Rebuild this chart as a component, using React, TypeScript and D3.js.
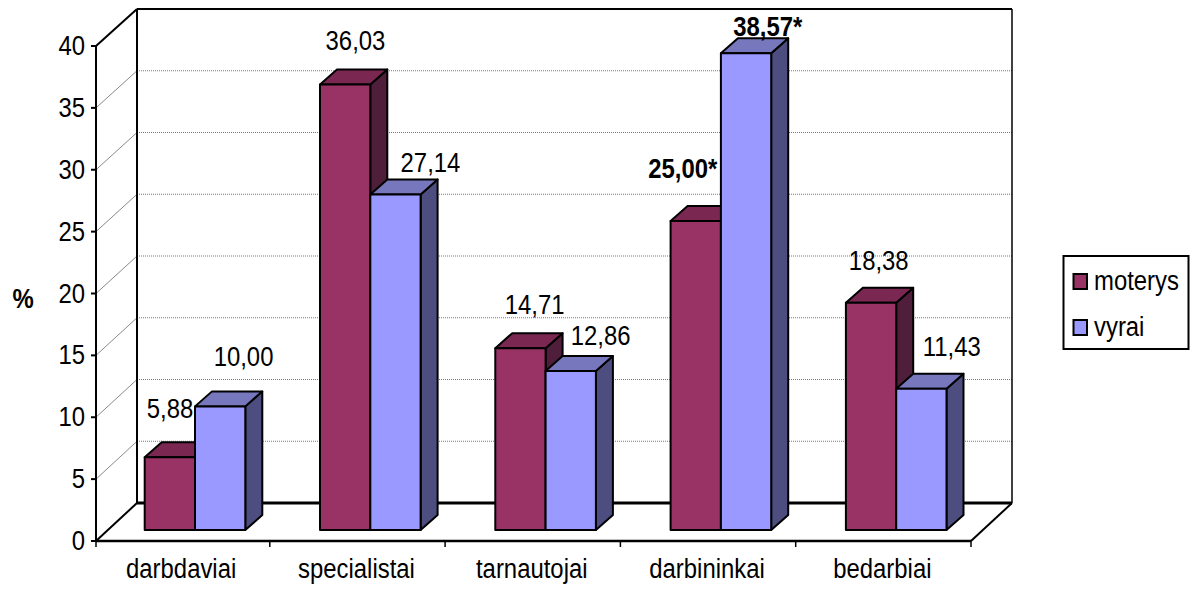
import React from "react";
import * as d3 from "d3";

// Shares per occupational group, in percent
const categories = ["darbdaviai", "specialistai", "tarnautojai", "darbininkai", "bedarbiai"];
const seriesNames = ["moterys", "vyrai"];
const moterys = [5.88, 36.03, 14.71, 25.0, 18.38];
const vyrai = [10.0, 27.14, 12.86, 38.57, 11.43];
const moterysLabels = ["5,88", "36,03", "14,71", "25,00*", "18,38"];
const vyraiLabels = ["10,00", "27,14", "12,86", "38,57*", "11,43"];
const boldLabels = ["25,00*", "38,57*"];
const yTicks = [0, 5, 10, 15, 20, 25, 30, 35, 40];

// Hand-placed data label offsets from the top centre of each bar's front face
const moterysNudge: [number, number][] = [[0.2, -39], [10.3, -35], [14.2, -34], [-13, -43], [7.7, -33]];
const vyraiNudge: [number, number][] = [[23.4, -40], [35, -22], [29.9, -26], [21.7, -17.5], [30.4, -33]];

const FONT = "'Liberation Sans', Arial, sans-serif";
const FS = 27;
const X_SQUEEZE = 0.885;
const COLORS = [
  { front: "#993366", top: "#7A2851", side: "#4F1E3A" },
  { front: "#9999FF", top: "#7777BE", side: "#4D4D7F" },
];

// Oblique projection of the chart box
const left = 96;
const right = 971;
const depthX = 41;
const yFront = d3.scaleLinear().domain([0, 40]).range([541, 46]);
const yBack = d3.scaleLinear().domain([0, 40]).range([503, 9]);
const yBar = d3.scaleLinear().domain([0, 40]).range([530, 35.5]);
const barDx = 17;
const barDy = 15;

const xBand = d3.scaleBand<string>().domain(categories).range([94.5, right]);
const xSeries = d3.scaleBand<string>().domain(seriesNames).range([50.2, 150.8]);

// Text set in a narrowed Arial-like face: tall glyphs at a tighter advance
function Label({ x, y, anchor = "middle", bold = false, children }: {
  x: number; y: number; anchor?: string; bold?: boolean; children: React.ReactNode;
}) {
  return (
    <text
      transform={`translate(${x},${y}) scale(${X_SQUEEZE},1)`}
      textAnchor={anchor}
      fontWeight={bold ? "bold" : "normal"}
    >
      {children}
    </text>
  );
}

function Bar({ cat, series, value, idx }: { cat: string; series: string; value: number; idx: number }) {
  const x0 = (xBand(cat) as number) + (xSeries(series) as number);
  const x1 = x0 + xSeries.bandwidth();
  const y0 = yBar(0);
  const yt = yBar(value);
  const c = COLORS[idx];
  const poly = (pts: [number, number][]) => pts.map((p) => p.join(",")).join(" ");
  return (
    <g stroke="#000" strokeWidth={2} strokeLinejoin="round">
      <polygon points={poly([[x1, y0], [x1 + barDx, y0 - barDy], [x1 + barDx, yt - barDy], [x1, yt]])} fill={c.side} />
      <polygon points={poly([[x0, yt], [x0 + barDx, yt - barDy], [x1 + barDx, yt - barDy], [x1, yt]])} fill={c.top} />
      <rect x={x0} y={yt} width={x1 - x0} height={y0 - yt} fill={c.front} />
    </g>
  );
}

export default function App() {
  const faceCentre = (cat: string, series: string) =>
    (xBand(cat) as number) + (xSeries(series) as number) + xSeries.bandwidth() / 2;

  const labelRows = [
    { series: seriesNames[0], values: moterys, labels: moterysLabels, nudge: moterysNudge },
    { series: seriesNames[1], values: vyrai, labels: vyraiLabels, nudge: vyraiNudge },
  ];
  const catTicks = [left, ...categories.slice(1).map((c) => xBand(c) as number), right];

  return (
    <svg
      width={1196}
      height={589}
      viewBox="0 0 1196 589"
      style={{ position: "absolute", left: 0, top: 0, background: "#fff" }}
      fontFamily={FONT}
      fontSize={FS}
      fill="#000"
    >
      {/* walls: gridlines on the back and side */}
      {yTicks.slice(1, -1).map((t) => (
        <g key={t}>
          <line x1={left} y1={yFront(t)} x2={left + depthX} y2={yBack(t)} stroke="#8a8a8a" strokeWidth={1} />
          <line
            x1={left + depthX}
            y1={yBack(t)}
            x2={right + depthX}
            y2={yBack(t)}
            stroke="#777"
            strokeWidth={1}
            strokeDasharray="1 1"
          />
        </g>
      ))}

      {/* frame of the box */}
      <g stroke="#000" fill="none">
        <line x1={left + depthX} y1={yBack(40)} x2={right + depthX} y2={yBack(40)} strokeWidth={2} />
        <line x1={left + depthX} y1={yBack(40)} x2={left + depthX} y2={yBack(0)} strokeWidth={2} />
        <line x1={right + depthX} y1={yBack(40)} x2={right + depthX} y2={yBack(0)} strokeWidth={1.5} />
        <line x1={left} y1={yFront(40)} x2={left + depthX} y2={yBack(40)} strokeWidth={2} />
        <line x1={left} y1={yFront(0)} x2={left + depthX} y2={yBack(0)} strokeWidth={2} />
        <line x1={right} y1={yFront(0)} x2={right + depthX} y2={yBack(0)} strokeWidth={2} />
        <line x1={left + depthX} y1={yBack(0)} x2={right + depthX} y2={yBack(0)} strokeWidth={3} />
        <line x1={left} y1={yFront(40)} x2={left} y2={yFront(0)} strokeWidth={2} />
        <line x1={left} y1={yFront(0)} x2={right} y2={yFront(0)} strokeWidth={2.5} />
      </g>

      {/* value axis */}
      {yTicks.map((t) => (
        <g key={t}>
          <line x1={left - 5} y1={yFront(t)} x2={left} y2={yFront(t)} stroke="#000" strokeWidth={2} />
          <Label x={85} y={yFront(t) + 9} anchor="end">
            {t}
          </Label>
        </g>
      ))}
      <Label x={23} y={308} bold>
        %
      </Label>

      {/* category axis */}
      {catTicks.map((x) => (
        <line key={x} x1={x} y1={yFront(0)} x2={x} y2={yFront(0) + 6} stroke="#000" strokeWidth={1.5} />
      ))}
      {categories.map((c) => (
        <Label key={c} x={(xBand(c) as number) + xBand.bandwidth() / 2 - 1} y={578}>
          {c}
        </Label>
      ))}

      {/* bars */}
      {categories.map((c, i) => (
        <g key={c}>
          <Bar cat={c} series={seriesNames[0]} value={moterys[i]} idx={0} />
          <Bar cat={c} series={seriesNames[1]} value={vyrai[i]} idx={1} />
        </g>
      ))}

      {/* data labels */}
      {labelRows.map((row) =>
        categories.map((c, i) => (
          <Label
            key={row.series + c}
            x={faceCentre(c, row.series) + row.nudge[i][0]}
            y={yBar(row.values[i]) + row.nudge[i][1]}
            bold={boldLabels.includes(row.labels[i])}
          >
            {row.labels[i]}
          </Label>
        ))
      )}

      {/* legend */}
      <rect x={1063.5} y={256} width={125} height={93} fill="#fff" stroke="#000" strokeWidth={2} />
      {seriesNames.map((s, i) => (
        <g key={s}>
          <rect x={1073.5} y={274 + i * 46} width={13.5} height={15} fill={COLORS[i].front} stroke="#000" strokeWidth={2} />
          <Label x={1094} y={290 + i * 46} anchor="start">
            {s}
          </Label>
        </g>
      ))}
    </svg>
  );
}
